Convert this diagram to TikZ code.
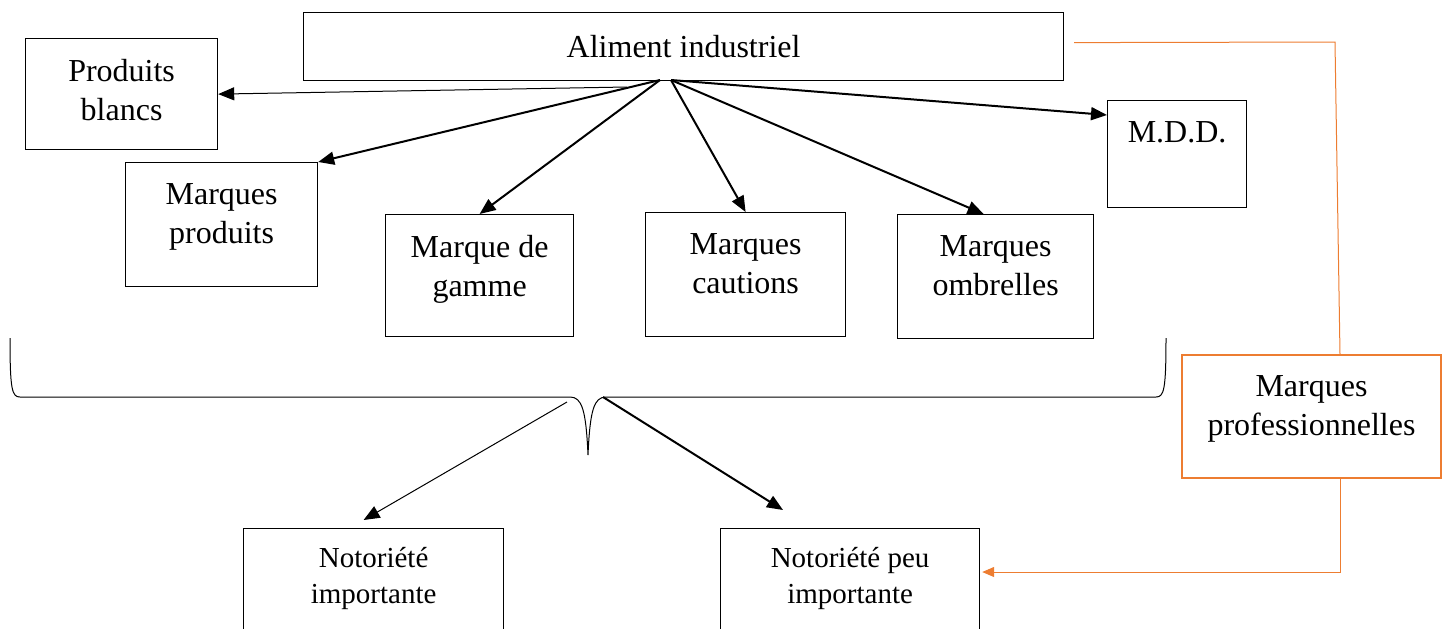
\documentclass[tikz,border=0pt]{standalone}
\usepackage{fontspec}
\setmainfont{Liberation Serif}
\usetikzlibrary{positioning,calc,arrows.meta}
\definecolor{orangepro}{HTML}{ED7D31}
\tikzset{
  boite/.style={draw, line width=0.6pt, inner sep=0pt, anchor=north west},
  texte/.style={anchor=north, yshift=-10.5pt, align=center, inner sep=0pt, font=\fontsize{16}{19.5}\selectfont},
  haut/.style={label={[texte]north:#1}},
  petit/.style={label={[texte, yshift=1pt, font=\fontsize{14.5}{18}\selectfont]north:#1}},
  fleche/.style={-{Triangle[length=8pt,width=6.5pt]}, line width=1pt},
  fine/.style={-{Triangle[length=8pt,width=6.5pt]}, line width=0.5pt},
}

\begin{document}
\begin{tikzpicture}[x=0.5pt,y=-0.5pt]
    \useasboundingbox (0,0) rectangle (1448,628);

    % Boites du haut
    \node[boite, minimum width=380pt, minimum height=34pt, font=\fontsize{16}{19.5}\selectfont] (ali) at (303,12) {Aliment industriel};
    \node[boite, minimum width=96pt, minimum height=55.5pt, haut={Produits\\blancs}] (blancs) at (25,38) {};
    \node[boite, minimum width=69.5pt, minimum height=53.5pt, haut={M.D.D.}] (mdd) at (1107,100) {};
    \node[boite, minimum width=96pt, minimum height=62pt, haut={Marques\\produits}] (produits) at (125,162) {};
    \node[boite, minimum width=94pt, minimum height=61pt, haut={Marque de\\gamme}] (gamme) at (385,214) {};
    \node[boite, minimum width=100pt, minimum height=62pt, haut={Marques\\cautions}] (cautions) at (645,212) {};
    \node[boite, minimum width=98pt, minimum height=62pt, haut={Marques\\ombrelles}] (ombrelles) at (897,214) {};
    \node[boite, draw=orangepro, line width=1pt, minimum width=129.5pt, minimum height=61.5pt, haut={Marques\\professionnelles}] (pro) at (1181,354) {};

    % Boites du bas (coupees par le bord)
    \node[boite, minimum width=130pt, minimum height=70pt, petit={Notoriété\\importante}] (imp) at (243,528) {};
    \node[boite, minimum width=129.5pt, minimum height=70pt, petit={Notoriété peu\\importante}] (peu) at (720,528) {};

    % Fleches depuis l'aliment industriel
    \coordinate (depart) at (660,80);
    \coordinate (depart2) at (671,80);
    \coordinate (branche) at (627,87);
    \draw[fine] (branche) -- (blancs.east);
    \foreach \cible in {produits.north east, gamme.north}
        \draw[fleche] (depart) -- (\cible);
    \draw[fleche] (depart2) -- (cautions.north);
    \draw[fleche] (depart2) -- ($(ombrelles.north)+(-12,0)$);
    \draw[fleche] (depart2) -- ($(mdd.north west)+(0,15)$);

    % Accolade
    \draw[line width=0.5pt] (10,338) .. controls (10,390) and (12,397) .. (20,397) -- (570,397)
        .. controls (582,397) and (586,410) .. (588,455)
        .. controls (590,410) and (594,397) .. (606,397) -- (1156,397)
        .. controls (1164,397) and (1166,390) .. (1166,338);

    % Fleches depuis l'accolade
    \coordinate (g) at (567,402);
    \coordinate (d) at (603,397);
    \draw[fine] (g) -- ($(imp.north)+(-10,-8)$);
    \draw[fleche] (d) -- ($(peu.north west)+(63,-18)$);

    % Marques professionnelles (orange)
    \draw[orangepro, line width=0.5pt] ($(ali.east)+(10,-4)$) -- (1335,42) -- ($(pro.north west)+(159,0)$);
    \draw[orangepro, line width=0.5pt, -{Triangle[length=6pt,width=5pt]}] ($(pro.south west)+(159,0)$) |- ($(peu.north east)+(2,44)$);
\end{tikzpicture}
\end{document}
